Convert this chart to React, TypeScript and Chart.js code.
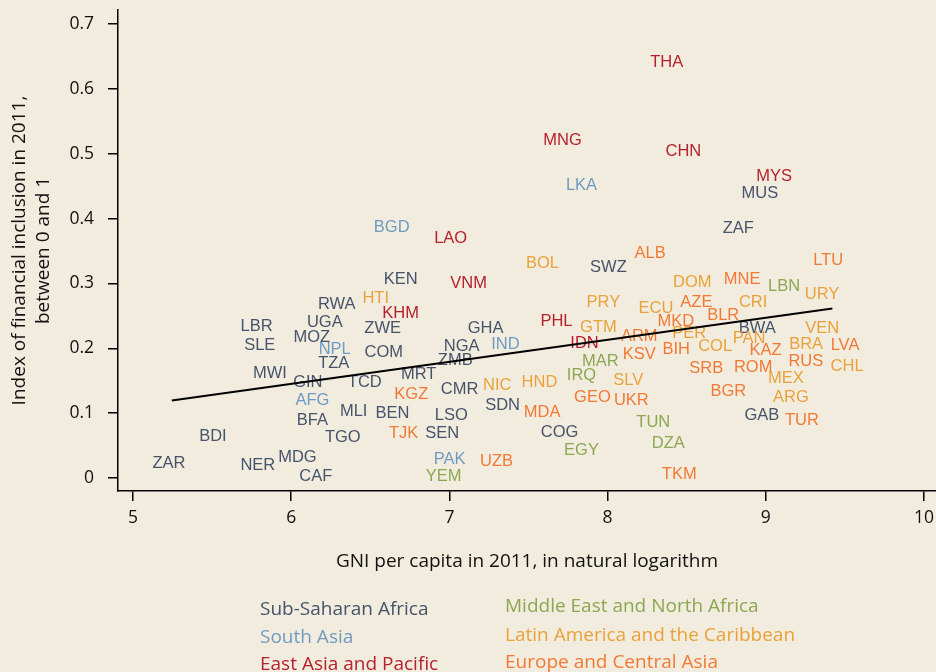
import React, { useEffect, useRef } from "react";
import { Chart, registerables } from "chart.js";

Chart.register(...registerables);

// ---- Data (x = GNI per capita 2011, natural log; y = financial inclusion index) ----
const ssaCodes = ["ZAR","BDI","NER","MDG","CAF","MWI","LBR","SLE","RWA","UGA","MOZ","TZA","GIN","BFA","TGO","MLI","TCD","ZWE","COM","KEN","BEN","MRT","LSO","SEN","NGA","ZMB","GHA","CMR","SDN","SWZ","COG","ZAF","MUS","BWA","GAB"];
const ssaX = [5.227,5.505,5.789,6.039,6.155,5.865,5.781,5.801,6.288,6.212,6.130,6.269,6.105,6.134,6.326,6.395,6.465,6.578,6.585,6.692,6.640,6.806,7.012,6.955,7.077,7.037,7.229,7.064,7.336,8.005,7.696,8.826,8.963,8.946,8.975];
const ssaY = [0.023,0.064,0.020,0.031,0.002,0.162,0.233,0.205,0.268,0.240,0.217,0.176,0.148,0.089,0.063,0.102,0.147,0.231,0.193,0.306,0.099,0.159,0.097,0.068,0.203,0.181,0.231,0.136,0.112,0.324,0.071,0.385,0.438,0.231,0.096];

const saCodes = ["BGD","NPL","AFG","IND","PAK","LKA"];
const saX = [6.635,6.275,6.134,7.354,7.001,7.835];
const saY = [0.386,0.199,0.119,0.206,0.028,0.451];

const eapCodes = ["LAO","VNM","KHM","PHL","IDN","MNG","THA","CHN","MYS"];
const eapX = [7.008,7.121,6.692,7.677,7.854,7.715,8.374,8.479,9.053];
const eapY = [0.370,0.300,0.254,0.242,0.208,0.521,0.641,0.504,0.465];

const menaCodes = ["YEM","EGY","MAR","IRQ","TUN","DZA","LBN"];
const menaX = [6.963,7.835,7.954,7.835,8.289,8.384,9.116];
const menaY = [0.002,0.043,0.179,0.158,0.086,0.053,0.295];

const lacCodes = ["HTI","NIC","HND","BOL","PRY","GTM","SLV","ECU","DOM","PER","COL","CRI","PAN","URY","VEN","BRA","CHL","MEX","ARG"];
const lacX = [6.534,7.302,7.569,7.588,7.973,7.942,8.131,8.306,8.535,8.516,8.680,8.920,8.895,9.356,9.356,9.255,9.514,9.127,9.159];
const lacY = [0.277,0.143,0.148,0.331,0.271,0.232,0.151,0.262,0.302,0.223,0.203,0.271,0.215,0.283,0.230,0.206,0.172,0.154,0.125];

const ecaCodes = ["KGZ","TJK","UZB","MDA","GEO","UKR","KSV","ARM","BIH","MKD","AZE","BLR","ALB","MNE","SRB","BGR","ROM","KAZ","RUS","LVA","LTU","TUR","TKM"];
const ecaX = [6.759,6.711,7.298,7.586,7.904,8.150,8.200,8.200,8.434,8.432,8.561,8.731,8.269,8.850,8.624,8.763,8.920,8.999,9.253,9.501,9.394,9.228,8.453];
const ecaY = [0.129,0.068,0.025,0.101,0.124,0.119,0.191,0.218,0.199,0.242,0.270,0.250,0.347,0.306,0.169,0.134,0.171,0.196,0.180,0.205,0.335,0.089,0.006];

const fitX = [5.245, 9.421];
const fitY = [0.1197, 0.2615];

const regionNames = ["Sub-Saharan Africa","South Asia","East Asia and Pacific","Middle East and North Africa","Latin America and the Caribbean","Europe and Central Asia"];
const regionColors = ["#46546b","#6f9bc2","#b5212f","#8ca752","#e9a23a","#f27934"];

const xTitle = "GNI per capita in 2011, in natural logarithm";
const yTitle = ["Index of financial inclusion in 2011,", "between 0 and 1"];

const BG = "#f2ecde";
const AXIS_FONT = '"Open Sans", "DejaVu Sans", sans-serif';

function pts(xs: number[], ys: number[]) {
  return xs.map((x, i) => ({ x, y: ys[i] }));
}

const labelPlugin = {
  id: "codeLabels",
  beforeDatasetsDraw(chart: any) {
    const ctx = chart.ctx;
    ctx.save();
    ctx.font = '16.5px "Liberation Sans", Arial, sans-serif';
    ctx.textAlign = "center";
    ctx.textBaseline = "middle";
    chart.data.datasets.forEach((ds: any, i: number) => {
      if (!ds.codes) return;
      const meta = chart.getDatasetMeta(i);
      ctx.fillStyle = ds.labelColor;
      meta.data.forEach((el: any, j: number) => {
        ctx.fillText(ds.codes[j], el.x, el.y);
      });
    });
    ctx.restore();
  },
};

export default function App() {
  const ref = useRef<HTMLCanvasElement | null>(null);
  useEffect(() => {
    if (!ref.current) return;
    const groups = [
      [ssaCodes, ssaX, ssaY],
      [saCodes, saX, saY],
      [eapCodes, eapX, eapY],
      [menaCodes, menaX, menaY],
      [lacCodes, lacX, lacY],
      [ecaCodes, ecaX, ecaY],
    ] as [string[], number[], number[]][];
    const datasets: any[] = groups.map((g, i) => ({
      type: "scatter",
      label: regionNames[i],
      data: pts(g[1], g[2]),
      codes: g[0],
      labelColor: regionColors[i],
      pointRadius: 0,
      pointHoverRadius: 0,
    }));
    datasets.push({
      type: "line",
      label: "fit",
      data: pts(fitX, fitY),
      borderColor: "#000",
      borderWidth: 2,
      pointRadius: 0,
      fill: false,
    });
    const chart = new Chart(ref.current, {
      type: "scatter",
      data: { datasets },
      plugins: [labelPlugin],
      options: {
        animation: false,
        responsive: false,
        maintainAspectRatio: false,
        layout: { padding: { top: 10, right: 0, left: 0, bottom: 0 } },
        plugins: { legend: { display: false }, tooltip: { enabled: false } },
        scales: {
          x: {
            type: "linear",
            min: 4.905,
            max: 10.076,
            afterFit: (s: any) => { s.height = 181; s.paddingLeft = 0; s.paddingRight = 0; },
            grid: { drawOnChartArea: false, drawTicks: true, tickLength: 10, color: "#000", lineWidth: 1.5 },
            border: { display: true, color: "#000", width: 1.5 },
            ticks: {
              stepSize: 1,
              includeBounds: false,
              padding: 6.5,
              color: "#111",
              font: { family: AXIS_FONT, size: 17.5 },
              callback: (v: any) => String(Math.round(Number(v))),
            },
            title: {
              display: true,
              text: xTitle,
              color: "#111",
              font: { family: AXIS_FONT, size: 19, lineHeight: 1.2 },
              padding: { top: 0, bottom: 98.6 },
            },
          },
          y: {
            type: "linear",
            min: -0.02,
            max: 0.7216,
            afterFit: (s: any) => { s.width = 118; s.paddingTop = 0; s.paddingBottom = 0; },
            grid: { drawOnChartArea: false, drawTicks: true, tickLength: 10, color: "#000", lineWidth: 1.5 },
            border: { display: true, color: "#000", width: 1.5 },
            ticks: {
              stepSize: 0.1,
              includeBounds: false,
              padding: 14,
              color: "#111",
              font: { family: AXIS_FONT, size: 17.5 },
              callback: (v: any) => String(Number(Number(v).toFixed(1))),
            },
            title: {
              display: true,
              text: yTitle,
              color: "#111",
              font: { family: AXIS_FONT, size: 19, lineHeight: 24 / 19 },
              padding: { top: 8, bottom: 0 },
            },
          },
        },
      } as any,
    });
    return () => chart.destroy();
  }, []);

  const legendCols = [
    { left: 260, tops: [608, 636, 663], idx: [0, 1, 2] },
    { left: 505, tops: [605, 634, 661], idx: [3, 4, 5] },
  ];

  return (
    <div style={{ position: "fixed", left: 0, top: 0, width: 936, height: 672, background: BG, overflow: "hidden" }}>
      <canvas ref={ref} width={936} height={672} style={{ position: "absolute", left: 0, top: 0, width: 936, height: 672 }} />
      {legendCols.map((c) =>
        c.idx.map((k, r) => (
          <div
            key={k}
            style={{
              position: "absolute",
              left: c.left,
              top: c.tops[r] - 13,
              height: 26,
              lineHeight: "26px",
              fontFamily: AXIS_FONT,
              fontSize: 19,
              color: regionColors[k],
              whiteSpace: "nowrap",
            }}
          >
            {regionNames[k]}
          </div>
        ))
      )}
    </div>
  );
}
